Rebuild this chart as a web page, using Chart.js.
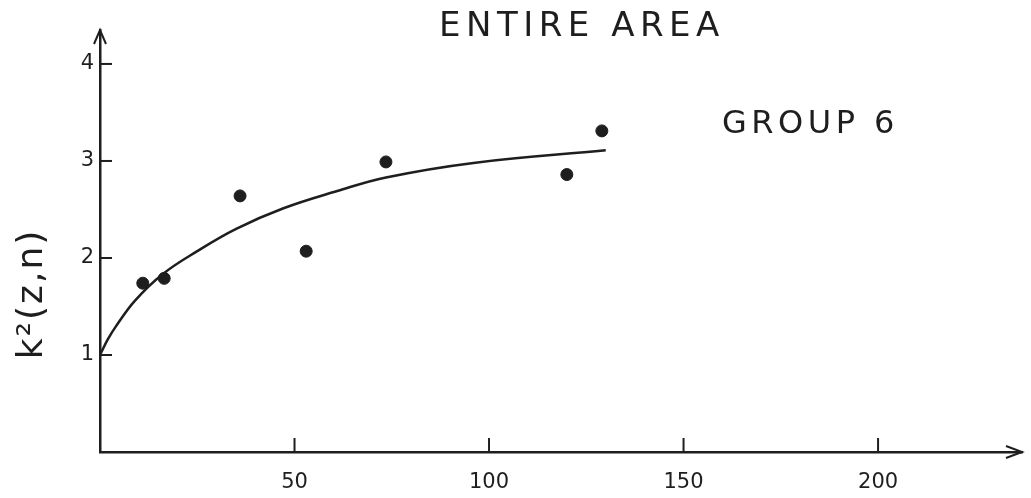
<!DOCTYPE html>
<html>
<head>
<meta charset="utf-8">
<script src="https://cdn.jsdelivr.net/npm/chart.js@4"></script>
<style>
  html, body { margin: 0; padding: 0; background: #fff; }
  #wrap { width: 1031px; height: 498px; position: relative; }
</style>
</head>
<body>
<div id="wrap"><canvas id="myChart"></canvas></div>
<script>
// observed points
const obsX = [11, 16.5, 36, 53, 73.5, 120, 129];
const obsY = [1.74, 1.79, 2.64, 2.07, 2.99, 2.86, 3.31];
// hand-drawn fitted curve
const curveX = [0, 2, 4, 9, 16, 25, 35, 47, 61, 73.5, 96, 130];
const curveY = [1, 1.16, 1.29, 1.56, 1.83, 2.07, 2.3, 2.51, 2.69, 2.83, 2.98, 3.11];
const xTicks = [50, 100, 150, 200];
const yTicks = [1, 2, 3, 4];
const chartTitle = "ENTIRE AREA";
const groupLabel = "GROUP 6";
const yTitle = "k²(z,n)";

const ink = "#1e1e1e";
const font = "'DejaVu Sans', sans-serif";

// tick marks inside the plot, arrows and the texts
const sketchPlugin = {
  id: "sketch",
  afterDraw(chart) {
    const ctx = chart.ctx;
    const xs = chart.scales.x;
    const ys = chart.scales.y;
    const x0 = xs.getPixelForValue(0);
    const y0 = ys.getPixelForValue(0);
    ctx.save();
    ctx.strokeStyle = ink;
    ctx.fillStyle = ink;
    ctx.lineWidth = 2;
    for (const v of yTicks) {
      const py = ys.getPixelForValue(v);
      ctx.beginPath();
      ctx.moveTo(x0, py);
      ctx.lineTo(x0 + 12, py);
      ctx.stroke();
    }
    for (const v of xTicks) {
      const px = xs.getPixelForValue(v);
      ctx.beginPath();
      ctx.moveTo(px, y0);
      ctx.lineTo(px, y0 - 14);
      ctx.stroke();
    }
    // arrow heads
    const top = chart.chartArea.top;
    const right = chart.chartArea.right;
    ctx.beginPath();
    ctx.moveTo(x0 - 6, top + 14);
    ctx.lineTo(x0, top);
    ctx.lineTo(x0 + 6, top + 14);
    ctx.stroke();
    ctx.beginPath();
    ctx.moveTo(right - 16, y0 - 6);
    ctx.lineTo(right, y0);
    ctx.lineTo(right - 16, y0 + 6);
    ctx.stroke();

    // texts
    ctx.textBaseline = "middle";
    ctx.textAlign = "left";
    ctx.letterSpacing = "5.5px";
    ctx.font = "34px " + font;
    ctx.fillText(chartTitle, 439, 27);
    ctx.letterSpacing = "4.5px";
    ctx.font = "32px " + font;
    ctx.fillText(groupLabel, 722, 125);
    ctx.letterSpacing = "2px";
    ctx.translate(33, 294);
    ctx.rotate(-Math.PI / 2);
    ctx.textAlign = "center";
    ctx.font = "36px " + font;
    ctx.fillText(yTitle, 0, 0);
    ctx.restore();
  }
};

new Chart(document.getElementById("myChart"), {
  type: "scatter",
  data: {
    datasets: [
      {
        label: "curve",
        type: "line",
        data: curveX.map((x, i) => ({ x: x, y: curveY[i] })),
        borderColor: ink,
        borderWidth: 2.5,
        pointRadius: 0,
        tension: 0.4,
        fill: false
      },
      {
        label: "points",
        data: obsX.map((x, i) => ({ x: x, y: obsY[i] })),
        backgroundColor: ink,
        borderColor: ink,
        pointRadius: 6,
        pointHoverRadius: 6
      }
    ]
  },
  options: {
    responsive: true,
    maintainAspectRatio: false,
    animation: false,
    layout: { padding: { top: 30, right: 9, left: 0, bottom: 0 } },
    plugins: {
      legend: { display: false },
      tooltip: { enabled: false }
    },
    scales: {
      x: {
        type: "linear",
        min: 0,
        max: 237,
        grid: { display: false, drawTicks: false },
        border: { display: true, color: ink, width: 2.5 },
        afterBuildTicks: (s) => { s.ticks = xTicks.map(v => ({ value: v })); },
        afterFit: (s) => { s.height = 46; },
        ticks: {
          color: ink,
          padding: 18,
          maxRotation: 0,
          font: { family: font, size: 21 }
        }
      },
      y: {
        type: "linear",
        min: 0,
        max: 4.35,
        grid: { display: false, drawTicks: false },
        border: { display: true, color: ink, width: 2.5 },
        afterBuildTicks: (s) => { s.ticks = yTicks.map(v => ({ value: v })); },
        afterFit: (s) => { s.width = 100; },
        ticks: {
          color: ink,
          padding: 6,
          font: { family: font, size: 21 }
        }
      }
    }
  },
  plugins: [sketchPlugin]
});
</script>
</body>
</html>
